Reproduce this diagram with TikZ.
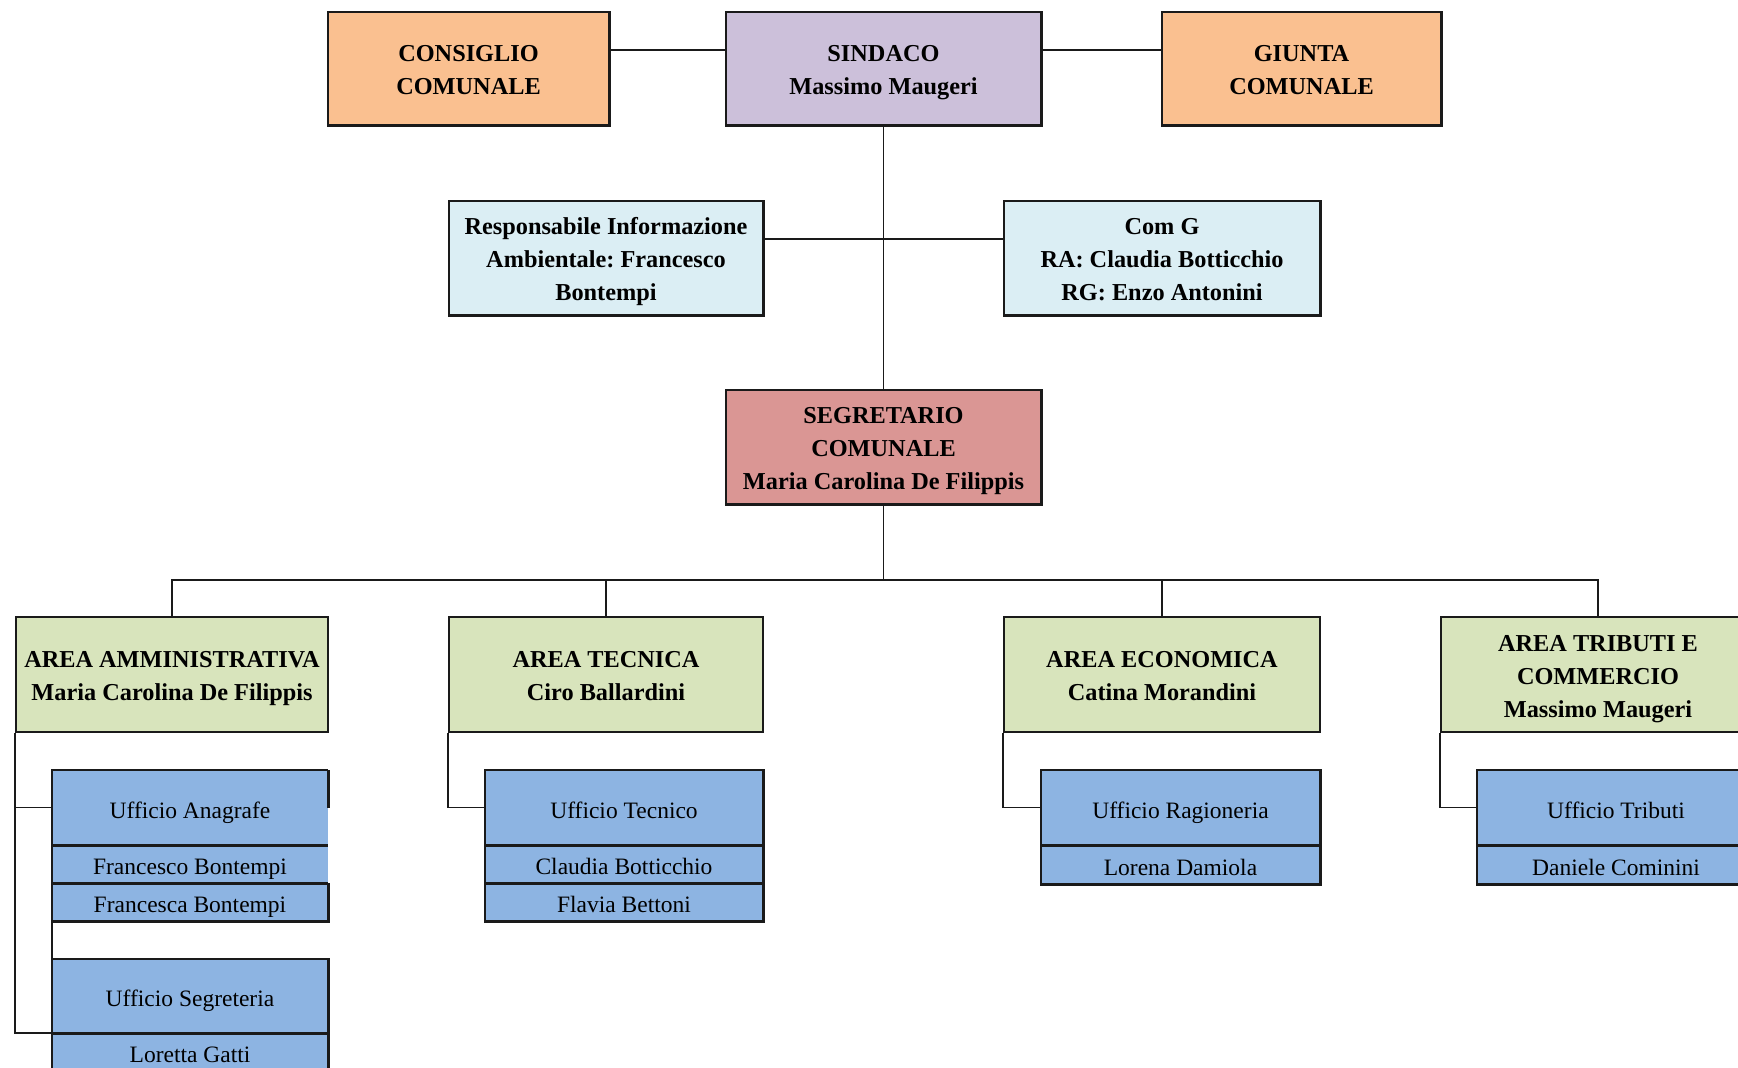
\documentclass[tikz,border=0pt]{standalone}
\usepackage{fontspec}
\setmainfont{Liberation Serif}
\frenchspacing
\newcommand{\tsA}{\rule{0pt}{26pt}}
\newcommand{\tsB}{\rule[-7pt]{0pt}{7pt}}
\definecolor{corange}{HTML}{FAC090}
\definecolor{clav}{HTML}{CCC0DA}
\definecolor{clblue}{HTML}{DBEEF4}
\definecolor{cred}{HTML}{DA9694}
\definecolor{cgreen}{HTML}{D8E4BC}
\definecolor{coffice}{HTML}{8DB4E2}
\definecolor{cline}{HTML}{1A1A1A}
\tikzset{
  box/.style={rectangle, draw=cline, line width=1.6pt, inner sep=0pt, align=center,
    font=\fontsize{24.3}{33}\selectfont\bfseries},
  areabox/.style={box, fill=cgreen, line width=2.6pt, minimum width=312pt, minimum height=115pt},
  offhead/.style={rectangle, fill=coffice, inner sep=0pt, align=center,
    font=\fontsize{23.5}{28}\selectfont, minimum height=75pt,
    text height=27.5pt, text depth=6pt},
  offname/.style={offhead, minimum height=38pt},
  conn/.style={draw=cline, line width=1.8pt},
  edge/.style={draw=cline, line width=2.6pt},
  shadowedge/.style={draw=cline, line width=3pt},
}
\begin{document}
\begin{tikzpicture}[x=1pt,y=-1pt]
\useasboundingbox (0,0) rectangle (1738,1068);
\clip (0,0) rectangle (1738,1068);
\fill[white] (0,0) rectangle (1738,1068);

% top row
\node[box, fill=corange, minimum width=281pt, minimum height=113pt] (cons) at (468.5,68.5) {\tsA CONSIGLIO\\COMUNALE\tsB};
\node[box, fill=clav, minimum width=315pt, minimum height=113pt] (sind) at (883.5,68.5) {\tsA SINDACO\\Massimo Maugeri\tsB};
\node[box, fill=corange, minimum width=279pt, minimum height=113pt] (giun) at (1301.5,68.5) {\tsA GIUNTA\\COMUNALE\tsB};

% second row
\node[box, fill=clblue, minimum width=314pt, minimum height=114pt] (resp) at (606,258) {\tsA Responsabile Informazione\\Ambientale: Francesco\\Bontempi\tsB};
\node[box, fill=clblue, minimum width=316pt, minimum height=114pt] (comg) at (1162,258) {\tsA Com G\\RA: Claudia Botticchio\\RG: Enzo Antonini\tsB};

% segretario
\node[box, fill=cred, minimum width=315pt, minimum height=114pt] (seg) at (883.5,447) {\tsA SEGRETARIO\\COMUNALE\\Maria Carolina De Filippis\tsB};

% thicker right/bottom edges
\foreach \n in {cons,sind,giun,resp,comg,seg}{
  \draw[shadowedge] (\n.north east) -- (\n.south east) -- (\n.south west);
}

% areas
\node[areabox] (amm) at (172,674.5) {\tsA AREA AMMINISTRATIVA\\Maria Carolina De Filippis\tsB};
\node[areabox, minimum width=314pt] (tec) at (606,674.5) {\tsA AREA TECNICA\\Ciro Ballardini\tsB};
\node[areabox, minimum width=316pt] (eco) at (1162,674.5) {\tsA AREA ECONOMICA\\Catina Morandini\tsB};
\node[areabox, minimum width=314pt] (tri) at (1598,674.5) {\tsA AREA TRIBUTI E\\COMMERCIO\\Massimo Maugeri\tsB};

% offices: Anagrafe
\node[offhead, minimum width=276pt] (anaH) at (190,807.5) {Ufficio Anagrafe};
\node[offname, minimum width=276pt] (anaN1) at (190,864) {Francesco Bontempi};
\node[offname, minimum width=276pt] (anaN2) at (190,902) {Francesca Bontempi};
\draw[edge] (anaH.east |- anaH.north) -- (anaH.north west) -- (anaN2.south west) -- (anaN2.south east) -- (anaN2.north east);
\draw[edge] (anaH.east) -- (anaH.north east);
\draw[edge] (anaH.south west) -- (anaH.south east);
\draw[edge] (anaN1.south west) -- (anaN1.south east);

% Segreteria
\node[offhead, minimum width=276pt, minimum height=74pt] (segH) at (190,996) {Ufficio Segreteria};
\node[offname, minimum width=276pt] (segN) at (190,1052) {Loretta Gatti};
\draw[edge] (segN.south west) -- (segH.north west) -- (segH.north east) -- (segN.south east);
\draw[edge] (segH.south west) -- (segH.south east);

% Tecnico
\node[offhead, minimum width=278pt] (tecH) at (624,807.5) {Ufficio Tecnico};
\node[offname, minimum width=278pt] (tecN1) at (624,864) {Claudia Botticchio};
\node[offname, minimum width=278pt] (tecN2) at (624,902) {Flavia Bettoni};
\draw[edge] (tecH.north west) rectangle (tecN2.south east);
\draw[edge] (tecH.south west) -- (tecH.south east);
\draw[edge] (tecN1.south west) -- (tecN1.south east);

% Ragioneria
\node[offhead, minimum width=279pt] (ragH) at (1180.5,807.5) {Ufficio Ragioneria};
\node[offname, minimum width=279pt, minimum height=39pt] (ragN) at (1180.5,864.5) {Lorena Damiola};
\draw[edge] (ragH.north west) rectangle (ragN.south east);
\draw[edge] (ragH.south west) -- (ragH.south east);

% Tributi
\node[offhead, minimum width=278pt] (triH) at (1616,807.5) {Ufficio Tributi};
\node[offname, minimum width=278pt, minimum height=39pt] (triN) at (1616,864.5) {Daniele Cominini};
\draw[edge] (triH.north west) rectangle (triN.south east);
\draw[edge] (triH.south west) -- (triH.south east);

% connectors
\draw[conn] ([yshift=18.5pt]cons.east) -- ([yshift=18.5pt]sind.west);
\draw[conn] ([yshift=18.5pt]sind.east) -- ([yshift=18.5pt]giun.west);
\draw[conn] (sind.south) -- (seg.north);
\draw[conn] ([yshift=19pt]resp.east) -- ([yshift=19pt]comg.west);
\coordinate (busc) at (883.5,580);
\draw[conn] (seg.south) -- (busc);
\draw[conn] (amm.north) -- (amm.north |- busc) -- (tri.north |- busc) -- (tri.north);
\draw[conn] (tec.north) -- (tec.north |- busc);
\draw[conn] (eco.north) -- (eco.north |- busc);

\draw[conn] (amm.south west) |- (anaH.west);
\draw[conn] (amm.south west) |- (segH.south west);
\draw[conn] (anaN2.south west) -- (segH.north west);
\draw[conn] (tec.south west) |- (tecH.west);
\draw[conn] (eco.south west) |- (ragH.west);
\draw[conn] (tri.south west) |- (triH.west);
\end{tikzpicture}
\end{document}
